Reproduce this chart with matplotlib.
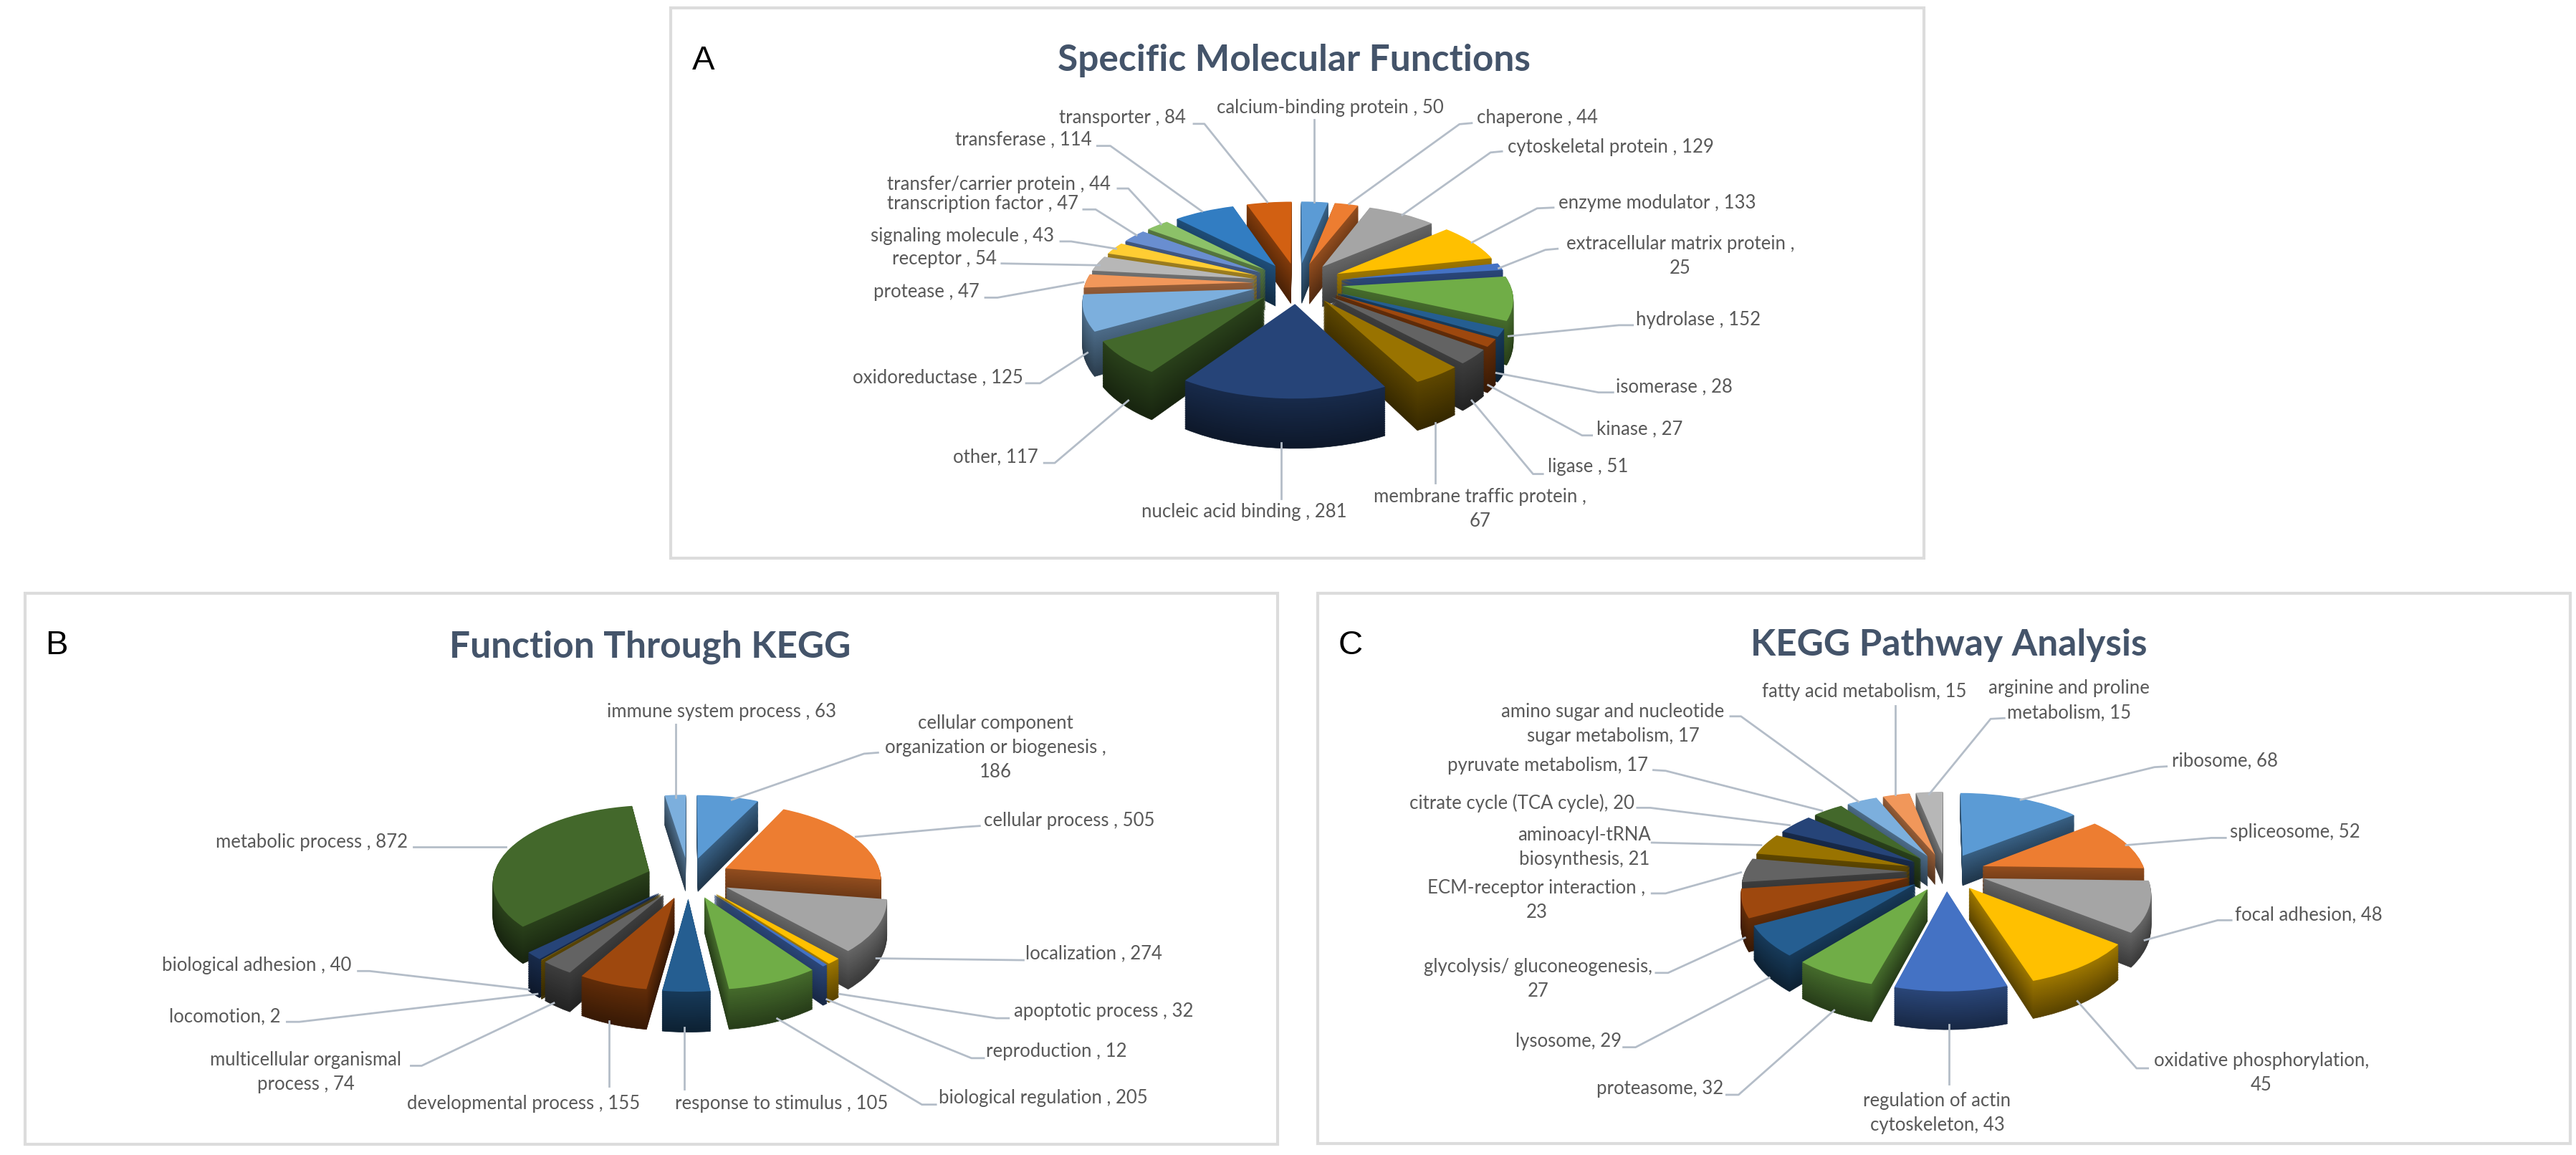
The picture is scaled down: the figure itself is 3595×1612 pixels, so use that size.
import numpy as np
import matplotlib
matplotlib.use("Agg")
import matplotlib.pyplot as plt
from matplotlib.patches import Wedge, Rectangle
from matplotlib.colors import to_rgb
from matplotlib.transforms import Transform

W, H = 3595, 1612

PALETTE = ['#5B9BD5', '#ED7D31', '#A5A5A5', '#FFC000', '#4472C4', '#70AD47', '#255E91', '#9E480E',
           '#636363', '#997300', '#264478', '#43682B', '#7CAFDD', '#F1975A', '#B7B7B7', '#FFCD33',
           '#698ED0', '#8CC168', '#327DC2', '#D26012']

# ------- data -------
names_a = ['calcium-binding protein', 'chaperone', 'cytoskeletal protein', 'enzyme modulator',
           'extracellular matrix protein', 'hydrolase', 'isomerase', 'kinase', 'ligase',
           'membrane traffic protein', 'nucleic acid binding', 'other', 'oxidoreductase', 'protease',
           'receptor', 'signaling molecule', 'transcription factor', 'transfer/carrier protein',
           'transferase', 'transporter']
values_a = [50, 44, 129, 133, 25, 152, 28, 27, 51, 67, 281, 117, 125, 47, 54, 43, 47, 44, 114, 84]

names_b = ['cellular component organization or biogenesis', 'cellular process', 'localization',
           'apoptotic process', 'reproduction', 'biological regulation', 'response to stimulus',
           'developmental process', 'multicellular organismal process', 'locomotion',
           'biological adhesion', 'metabolic process', 'immune system process']
values_b = [186, 505, 274, 32, 12, 205, 105, 155, 74, 2, 40, 872, 63]

names_c = ['ribosome', 'spliceosome', 'focal adhesion', 'oxidative phosphorylation',
           'regulation of actin cytoskeleton', 'proteasome', 'lysosome', 'glycolysis/ gluconeogenesis',
           'ECM-receptor interaction', 'aminoacyl-tRNA biosynthesis', 'citrate cycle (TCA cycle)',
           'pyruvate metabolism', 'amino sugar and nucleotide sugar metabolism', 'fatty acid metabolism',
           'arginine and proline metabolism']
values_c = [68, 52, 48, 45, 43, 32, 29, 27, 23, 21, 20, 17, 17, 15, 15]

# ------- label layout: text, centre, leader points, in the panel's layout grid -------
labels_a = [
    ('calcium-binding protein , 50', (812, 293), [(792, 325), (792, 550)]),
    ('chaperone , 44', (1065, 320), [(985, 335), (970, 338), (835, 555)]),
    ('cytoskeletal protein , 129', (1155, 400), [(1022, 412), (1008, 415), (900, 585)]),
    ('enzyme modulator , 133', (1212, 552), [(1085, 565), (1065, 567), (985, 660)]),
    ('extracellular matrix protein ,\n25', (1240, 697), [(1090, 677), (1075, 680), (1018, 730)]),
    ('hydrolase , 152', (1262, 870), [(1182, 885), (1165, 885), (1030, 915)]),
    ('isomerase , 28', (1233, 1053), [(1158, 1068), (1140, 1068), (1015, 1015)]),
    ('kinase , 27', (1190, 1167), [(1132, 1185), (1120, 1185), (1005, 1048)]),
    ('ligase , 51', (1127, 1270), [(1072, 1290), (1060, 1290), (985, 1090)]),
    ('membrane traffic protein ,\n67', (995, 1385), [(940, 1315), (940, 1150)]),
    ('nucleic acid binding , 281', (707, 1393), [(752, 1358), (752, 1205)]),
    ('other, 117', (403, 1243), [(462, 1260), (475, 1260), (565, 1090)]),
    ('oxidoreductase , 125', (332, 1027), [(440, 1043), (457, 1043), (515, 960)]),
    ('protease , 47', (318, 795), [(390, 810), (405, 810), (510, 768)]),
    ('receptor , 54', (340, 705), [(410, 717), (530, 722)]),
    ('signaling molecule , 43', (362, 643), [(482, 657), (495, 657), (550, 677)]),
    ('transcription factor , 47', (387, 555), [(510, 570), (525, 570), (575, 640)]),
    ('transfer/carrier protein , 44', (407, 503), [(552, 513), (565, 513), (605, 610)]),
    ('transferase , 114', (437, 380), [(527, 397), (543, 397), (655, 575)]),
    ('transporter , 84', (558, 320), [(645, 337), (658, 337), (735, 550)]),
]
labels_b = [
    ('immune system process , 63', (873, 343), [(817, 378), (817, 578)]),
    ('cellular component\norganization or biogenesis ,\n186', (1204, 441), [(1062, 455), (1045, 458), (885, 585)]),
    ('cellular process , 505', (1293, 642), [(1185, 657), (1165, 660), (1035, 687)]),
    ('localization , 274', (1323, 1008), [(1238, 1027), (1060, 1022)]),
    ('apoptotic process , 32', (1335, 1168), [(1220, 1187), (1205, 1187), (1015, 1120)]),
    ('reproduction , 12', (1278, 1278), [(1190, 1297), (1175, 1297), (1000, 1135)]),
    ('biological regulation , 205', (1262, 1407), [(1132, 1425), (1115, 1425), (940, 1188)]),
    ('response to stimulus , 105', (945, 1422), [(828, 1382), (828, 1212)]),
    ('developmental process , 155', (633, 1423), [(737, 1375), (737, 1195)]),
    ('multicellular organismal\nprocess , 74', (370, 1335), [(497, 1318), (510, 1318), (670, 1145)]),
    ('locomotion, 2', (272, 1182), [(347, 1197), (362, 1197), (650, 1120)]),
    ('biological adhesion , 40', (310, 1042), [(433, 1057), (447, 1057), (640, 1108)]),
    ('metabolic process , 872', (377, 702), [(500, 715), (612, 715)]),
]
labels_c = [
    ('fatty acid metabolism, 15', (682, 288), [(720, 325), (720, 570)]),
    ('arginine and proline\nmetabolism, 15', (935, 311), [(855, 360), (838, 362), (762, 570)]),
    ('ribosome, 68', (1127, 478), [(1055, 493), (1040, 495), (875, 585)]),
    ('spliceosome, 52', (1213, 675), [(1128, 690), (1110, 690), (1005, 710)]),
    ('focal adhesion, 48', (1230, 902), [(1135, 917), (1118, 917), (1028, 972)]),
    ('oxidative phosphorylation,\n45', (1172, 1338), [(1032, 1325), (1018, 1325), (945, 1140)]),
    ('regulation of actin\ncytoskeleton, 43', (772, 1448), [(787, 1368), (787, 1205)]),
    ('proteasome, 32', (430, 1382), [(512, 1398), (527, 1398), (645, 1165)]),
    ('lysosome, 29', (317, 1250), [(385, 1267), (400, 1267), (565, 1075)]),
    ('glycolysis/ gluconeogenesis,\n27', (280, 1080), [(425, 1062), (440, 1062), (535, 965)]),
    ('ECM-receptor interaction ,\n23', (278, 862), [(420, 843), (437, 843), (530, 785)]),
    ('aminoacyl-tRNA\nbiosynthesis, 21', (337, 716), [(420, 703), (555, 710)]),
    ('citrate cycle (TCA cycle), 20', (260, 595), [(402, 607), (418, 607), (590, 655)]),
    ('pyruvate metabolism, 17', (292, 490), [(422, 503), (437, 505), (630, 615)]),
    ('amino sugar and nucleotide\nsugar metabolism, 17', (372, 376), [(517, 355), (530, 355), (675, 590)]),
]

panels = [
    dict(values=values_a, labels=labels_a, title='Specific Molecular Functions', letter='A',
         grid=(930, 0, 1780 / 1560, 800 / 1560), box=(936, 11, 2685, 779),
         title_at=(768, 165), letter_at=(45, 165),
         cx=1811, cy=395, rx=285, back=110, front=154, depth=69, explode=0.22),
    dict(values=values_b, labels=labels_b, title='Function Through KEGG', letter='B',
         grid=(0, 820, 1800 / 1560, 790 / 1560), box=(35, 828, 1783, 1597),
         title_at=(786, 165), letter_at=(68, 160),
         cx=961, cy=1225, rx=266, back=112, front=152, depth=56, explode=0.22),
    dict(values=values_c, labels=labels_c, title='KEGG Pathway Analysis', letter='C',
         grid=(1830, 820, 1765 / 1560, 790 / 1560), box=(1839, 828, 3587, 1596),
         title_at=(786, 158), letter_at=(48, 160),
         cx=2716, cy=1217, rx=272, back=109, front=160, depth=53, explode=0.2),
]

LABEL_FONT = 'Lato'
LABEL_COLOR = '#595959'
LEADER_COLOR = '#B4BDC8'
TITLE_COLOR = '#44546A'


def shade(color, f):
    return tuple(c * f for c in to_rgb(color))


class Perspective(Transform):
    """Projects the flat pie (unit disc) onto figure pixels, tilted and seen from the front."""
    input_dims = output_dims = 2

    def __init__(self, cx, cy, rx, back, front, drop):
        super().__init__()
        self.cx, self.cy, self.rx, self.drop = cx, cy, rx, drop
        self.k = (front - back) / (front + back)
        self.c = 2 * front * back / (front + back)

    def transform_non_affine(self, values):
        v = np.asarray(values, float)
        d = 1 + self.k * v[:, 1]
        return np.column_stack([self.cx + self.rx * v[:, 0] / d,
                                self.cy - (self.c * v[:, 1] - self.drop) / d])


fig = plt.figure(figsize=(W / 100, H / 100), dpi=100, facecolor='white')
over = fig.add_axes([0, 0, 1, 1], zorder=5)
over.set_xlim(0, W)
over.set_ylim(H, 0)
over.axis('off')

for p in panels:
    ax = fig.add_axes([0, 0, 1, 1], zorder=3)
    n = len(p['values'])
    e = p['explode']
    colors = PALETTE[:n]
    wedges, _ = ax.pie(p['values'], colors=colors, startangle=90, counterclock=False,
                       radius=1 / (1 + e), explode=[e] * n, wedgeprops=dict(linewidth=0))
    ax.set_aspect('auto')
    ax.set_xlim(0, W)
    ax.set_ylim(H, 0)
    ax.axis('off')
    proj = lambda z: Perspective(p['cx'], p['cy'], p['rx'], p['back'], p['front'],
                                 z * p['depth'] * (1 - (p['front'] - p['back']) / (p['front'] + p['back']))) + ax.transData
    mids = [np.deg2rad((w.theta1 + w.theta2) / 2) for w in wedges]
    order = np.argsort([-np.sin(m) for m in mids])
    steps = int(p['depth'] / 1.5)
    for rank, i in enumerate(order):
        w = wedges[i]
        w.set_transform(proj(0))
        w.set_clip_on(False)
        w.set_zorder(rank * 2 + 1.9)
        for j in range(steps, 0, -1):
            t = j / steps
            f = 0.62 - 0.27 * t
            side = Wedge(w.center, w.r, w.theta1, w.theta2,
                         facecolor=shade(colors[i], f), edgecolor=shade(colors[i], f),
                         linewidth=0.5)
            ax.add_patch(side)
            side.set_transform(proj(t))
            side.set_clip_on(False)
            side.set_zorder(rank * 2 + 1 + 0.8 * (1 - t))

    x0, y0, sx, sy = p['grid']
    to_px = lambda q: (x0 + q[0] * sx, y0 + q[1] * sy)

    bx0, by0, bx1, by1 = p['box']
    over.add_patch(Rectangle((bx0, by0), bx1 - bx0, by1 - by0, fill=False, edgecolor='#DCDCDC', linewidth=3))
    tx, ty = to_px(p['title_at'])
    over.text(tx, ty, p['title'], ha='center', va='center', family='Lato', weight='bold',
              fontsize=37, color=TITLE_COLOR)
    lx, ly = to_px(p['letter_at'])
    over.text(lx, ly, p['letter'], ha='center', va='center', family='Liberation Sans',
              fontsize=34, color='black')
    for text, at, leader in p['labels']:
        cx, cy = to_px(at)
        over.text(cx, cy, text, ha='center', va='center', family=LABEL_FONT, fontsize=18.5,
                  color=LABEL_COLOR, linespacing=1.45)
        pts = np.array([to_px(q) for q in leader])
        over.plot(pts[:, 0], pts[:, 1], color=LEADER_COLOR, lw=2, solid_joinstyle='round')

fig.savefig('out.png', dpi=100, facecolor='white')
